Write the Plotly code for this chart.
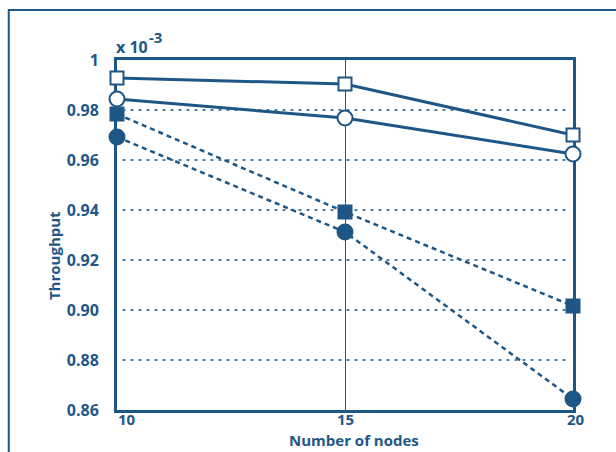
import plotly.graph_objects as go

# Throughput versus number of nodes for four configurations
nodes = [10, 15, 20]
open_square = [0.9928, 0.9904, 0.9700]
open_circle = [0.9844, 0.9768, 0.9624]
filled_square = [0.9784, 0.9392, 0.9016]
filled_circle = [0.9692, 0.9312, 0.8644]

y_ticks = [0.86, 0.88, 0.90, 0.92, 0.94, 0.96, 0.98, 1.0]
y_tick_text = ["0.86", "0.88", "0.90", "0.92", "0.94", "0.96", "0.98", "1"]
x_ticks = [10, 15, 20]
x_tick_text = ["10", "15", "20"]
x_label_shift = [10, 0, 3]

BLUE = "#1e5786"
FONT = "Open Sans"

fig = go.Figure()


def add_series(values, symbol, dashed, filled, size):
    fig.add_trace(go.Scatter(
        x=nodes, y=values, mode="lines+markers",
        line=dict(color=BLUE, width=2.5 if dashed else 3,
                  dash="5px,4px" if dashed else "solid"),
        marker=dict(symbol=symbol, size=size,
                    color=BLUE if filled else "white",
                    line=dict(color=BLUE, width=2)),
        cliponaxis=False, showlegend=False,
    ))


add_series(filled_circle, "circle", True, True, 15)
add_series(filled_square, "square", True, True, 13)
add_series(open_circle, "circle", False, False, 15)
add_series(open_square, "square", False, False, 13)

# dotted horizontal guides, inset slightly from the frame
for v in y_ticks[1:-1]:
    fig.add_shape(type="line", xref="paper", yref="y", x0=0.012, x1=0.988,
                  y0=v, y1=v, line=dict(color=BLUE, width=1.5, dash="3px,5px"),
                  layer="below")

# outer page frame
fig.add_shape(type="rect", xref="paper", yref="paper",
              x0=-0.2374, x1=1.3, y0=-0.3, y1=1.143,
              line=dict(color=BLUE, width=2), layer="below")

bold = dict(family=FONT, color=BLUE, weight="bold")

# x tick labels
for v, t, s in zip(x_ticks, x_tick_text, x_label_shift):
    fig.add_annotation(x=v, xref="x", y=-0.025, yref="paper",
                       yanchor="middle", xshift=s,
                       showarrow=False, text=t, font=dict(size=15, **bold))

# axis multiplier: "x 10" with a raised exponent
fig.add_annotation(xref="paper", yref="paper", x=-0.006, y=1.0,
                   xanchor="left", yanchor="bottom", showarrow=False,
                   text="x 10", font=dict(size=16, **bold))
fig.add_annotation(xref="paper", yref="paper", x=0.066, y=1.03,
                   xanchor="left", yanchor="bottom", showarrow=False,
                   text="-3", font=dict(size=15, **bold))

fig.add_annotation(xref="paper", yref="paper", x=0.52, y=-0.087,
                   xanchor="center", yanchor="middle",
                   showarrow=False, text="Number of nodes",
                   font=dict(size=15, **bold))

fig.add_annotation(xref="paper", yref="paper", x=-0.138, y=0.44,
                   xanchor="center", yanchor="middle", showarrow=False,
                   textangle=-90, text="Throughput",
                   font=dict(size=15, **bold))

fig.update_layout(
    width=616, height=452,
    margin=dict(l=117, r=43, t=60, b=42),
    paper_bgcolor="white", plot_bgcolor="white",
    font=dict(family=FONT, color=BLUE),
    xaxis=dict(
        range=[10, 20], tickvals=x_ticks, showticklabels=False, ticks="",
        showline=True, linecolor=BLUE, linewidth=3, mirror=True,
        layer="below traces", showgrid=True, gridcolor=BLUE, gridwidth=1.2,
        zeroline=False, automargin=False,
    ),
    yaxis=dict(
        range=[0.86, 1.0], tickvals=y_ticks, ticktext=y_tick_text, ticks="",
        showline=True, linecolor=BLUE, linewidth=3, mirror=True,
        layer="below traces", showgrid=False, zeroline=False,
        ticklabelstandoff=12, automargin=False,
        tickfont=dict(size=16, **bold),
    ),
)

fig.write_html("out.html")
